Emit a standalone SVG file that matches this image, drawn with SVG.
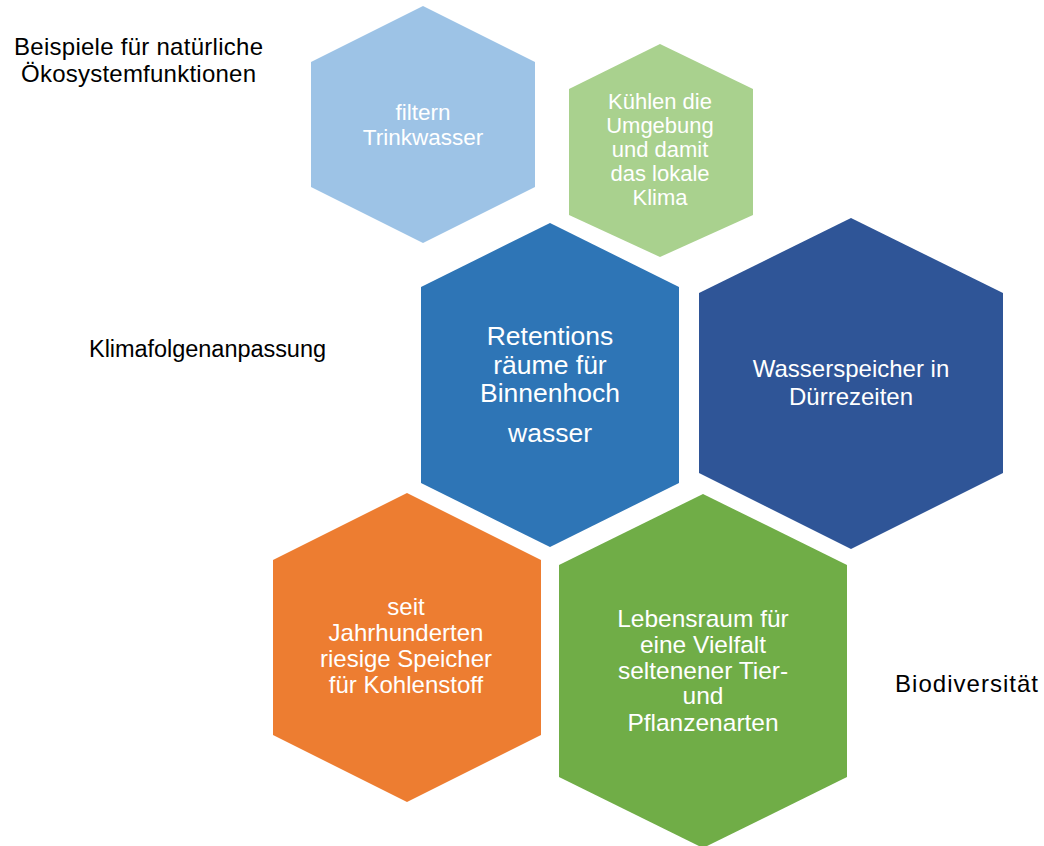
<svg xmlns="http://www.w3.org/2000/svg" width="1044" height="846" viewBox="0 0 1044 846">
<style>
.lbl{font-family:"Liberation Sans",Arial,sans-serif;fill:#000;}
.ht{font-family:"Liberation Sans",Arial,sans-serif;fill:#fff;text-anchor:middle;}
</style>
<rect width="1044" height="846" fill="#fff"/>
<g id="label-oeko">
<text class="lbl" x="138.5" y="55" font-size="24" text-anchor="middle" textLength="249">Beispiele für natürliche</text>
<text class="lbl" x="138.5" y="82" font-size="24" text-anchor="middle" textLength="235">Ökosystemfunktionen</text>
</g>
<g id="label-klima">
<text class="lbl" x="89" y="357" font-size="23.5" textLength="237">Klimafolgenanpassung</text>
</g>
<g id="label-bio">
<text class="lbl" x="895" y="692" font-size="24" textLength="143">Biodiversität</text>
</g>
<g id="hex-trinkwasser">
<polygon points="423,6 535,62 535,187 423,243 311,187 311,62" fill="#9DC3E6"/>
<text class="ht" font-size="22.5"><tspan x="423" y="120">filtern</tspan><tspan x="423" y="145">Trinkwasser</tspan></text>
</g>
<g id="hex-kuehlen">
<polygon points="660,44 753,89 753,215 660,257 569,215 569,89" fill="#A9D18E"/>
<text class="ht" font-size="22"><tspan x="660" y="109">Kühlen die</tspan><tspan x="660" y="133">Umgebung</tspan><tspan x="660" y="157">und damit</tspan><tspan x="660" y="181">das lokale</tspan><tspan x="660" y="205">Klima</tspan></text>
</g>
<g id="hex-retention">
<polygon points="550,223 679,287 679,483 550,547 421,483 421,287" fill="#2E75B6"/>
<text class="ht" font-size="26.5"><tspan x="550" y="345">Retentions</tspan><tspan x="550" y="374">räume für</tspan><tspan x="550" y="402">Binnenhoch</tspan><tspan x="550" y="442">wasser</tspan></text>
</g>
<g id="hex-wasserspeicher">
<polygon points="851,218 1003,293 1003,473 851,549 699,473 699,293" fill="#2F5597"/>
<text class="ht" font-size="24"><tspan x="851" y="377">Wasserspeicher in</tspan><tspan x="851" y="405">Dürrezeiten</tspan></text>
</g>
<g id="hex-kohlenstoff">
<polygon points="407,493 541,560 541,735 407,802 273,735 273,560" fill="#ED7D31"/>
<text class="ht" font-size="24"><tspan x="406" y="615">seit</tspan><tspan x="406" y="641">Jahrhunderten</tspan><tspan x="406" y="667">riesige Speicher</tspan><tspan x="406" y="693">für Kohlenstoff</tspan></text>
</g>
<g id="hex-lebensraum">
<polygon points="703,494 847,565 847,777 703,848 559,777 559,565" fill="#70AD47"/>
<text class="ht" font-size="24.5"><tspan x="703" y="627">Lebensraum für</tspan><tspan x="703" y="653">eine Vielfalt</tspan><tspan x="703" y="679">seltenener Tier-</tspan><tspan x="703" y="704">und</tspan><tspan x="703" y="731">Pflanzenarten</tspan></text>
</g>
<g id="connectors"></g>
</svg>
